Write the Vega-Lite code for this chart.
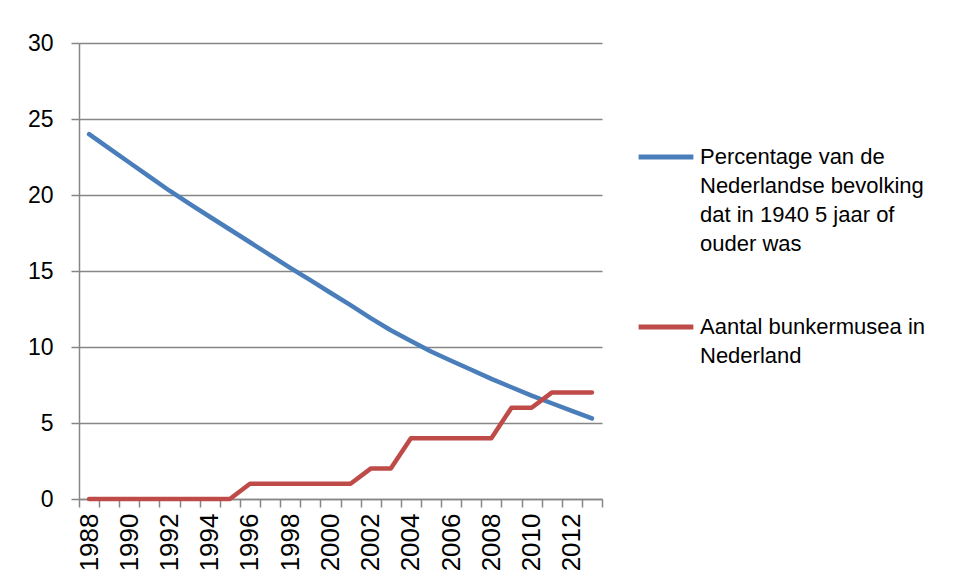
{
  "$schema": "https://vega.github.io/schema/vega-lite/v6.json",
  "width": 523,
  "height": 456,
  "autosize": {"type": "none"},
  "padding": {"left": 79, "top": 43, "right": 357, "bottom": 84},
  "background": "white",
  "config": {
    "view": {"stroke": null},
    "font": "Liberation Sans"
  },
  "data": {
    "values": [
      {"year": 1988, "series": "pct", "value": 24.0},
      {"year": 1989, "series": "pct", "value": 23.07},
      {"year": 1990, "series": "pct", "value": 22.14},
      {"year": 1991, "series": "pct", "value": 21.21},
      {"year": 1992, "series": "pct", "value": 20.28},
      {"year": 1993, "series": "pct", "value": 19.41},
      {"year": 1994, "series": "pct", "value": 18.57},
      {"year": 1995, "series": "pct", "value": 17.73},
      {"year": 1996, "series": "pct", "value": 16.89},
      {"year": 1997, "series": "pct", "value": 16.05},
      {"year": 1998, "series": "pct", "value": 15.21},
      {"year": 1999, "series": "pct", "value": 14.4},
      {"year": 2000, "series": "pct", "value": 13.57},
      {"year": 2001, "series": "pct", "value": 12.75},
      {"year": 2002, "series": "pct", "value": 11.9},
      {"year": 2003, "series": "pct", "value": 11.1},
      {"year": 2004, "series": "pct", "value": 10.4},
      {"year": 2005, "series": "pct", "value": 9.7},
      {"year": 2006, "series": "pct", "value": 9.1},
      {"year": 2007, "series": "pct", "value": 8.5},
      {"year": 2008, "series": "pct", "value": 7.9},
      {"year": 2009, "series": "pct", "value": 7.35},
      {"year": 2010, "series": "pct", "value": 6.8},
      {"year": 2011, "series": "pct", "value": 6.3},
      {"year": 2012, "series": "pct", "value": 5.8},
      {"year": 2013, "series": "pct", "value": 5.3},
      {"year": 1988, "series": "bunker", "value": 0},
      {"year": 1989, "series": "bunker", "value": 0},
      {"year": 1990, "series": "bunker", "value": 0},
      {"year": 1991, "series": "bunker", "value": 0},
      {"year": 1992, "series": "bunker", "value": 0},
      {"year": 1993, "series": "bunker", "value": 0},
      {"year": 1994, "series": "bunker", "value": 0},
      {"year": 1995, "series": "bunker", "value": 0},
      {"year": 1996, "series": "bunker", "value": 1},
      {"year": 1997, "series": "bunker", "value": 1},
      {"year": 1998, "series": "bunker", "value": 1},
      {"year": 1999, "series": "bunker", "value": 1},
      {"year": 2000, "series": "bunker", "value": 1},
      {"year": 2001, "series": "bunker", "value": 1},
      {"year": 2002, "series": "bunker", "value": 2},
      {"year": 2003, "series": "bunker", "value": 2},
      {"year": 2004, "series": "bunker", "value": 4},
      {"year": 2005, "series": "bunker", "value": 4},
      {"year": 2006, "series": "bunker", "value": 4},
      {"year": 2007, "series": "bunker", "value": 4},
      {"year": 2008, "series": "bunker", "value": 4},
      {"year": 2009, "series": "bunker", "value": 6},
      {"year": 2010, "series": "bunker", "value": 6},
      {"year": 2011, "series": "bunker", "value": 7},
      {"year": 2012, "series": "bunker", "value": 7},
      {"year": 2013, "series": "bunker", "value": 7}
    ]
  },
  "mark": {"type": "line", "strokeWidth": 4.5, "strokeCap": "round", "strokeJoin": "round"},
  "encoding": {
    "x": {
      "field": "year",
      "type": "ordinal",
      "scale": {"type": "band", "paddingInner": 0, "paddingOuter": 0},
      "axis": {
        "title": null,
        "tickBand": "extent",
        "labelExpr": "datum.value % 2 == 0 ? datum.label : ''",
        "labelAngle": 270,
        "labelAlign": "right",
        "labelBaseline": "middle",
        "labelFontSize": 26,
        "labelColor": "#000000",
        "labelPadding": 6,
        "tickSize": 8,
        "tickColor": "#868686",
        "tickWidth": 1.5,
        "domainColor": "#868686",
        "domainWidth": 1.5,
        "grid": false
      }
    },
    "y": {
      "field": "value",
      "type": "quantitative",
      "scale": {"domain": [0, 30], "nice": false},
      "axis": {
        "title": null,
        "values": [0, 5, 10, 15, 20, 25, 30],
        "labelFontSize": 23,
        "labelColor": "#000000",
        "labelPadding": 18,
        "tickSize": 8,
        "tickColor": "#868686",
        "tickWidth": 1.5,
        "domainColor": "#868686",
        "domainWidth": 1.5,
        "grid": true,
        "gridColor": "#868686",
        "gridWidth": 1.5
      }
    },
    "color": {
      "field": "series",
      "type": "nominal",
      "scale": {"domain": ["pct", "bunker"], "range": ["#4A7EBB", "#BE4B48"]},
      "legend": {
        "title": null,
        "orient": "none",
        "legendX": 557,
        "legendY": 84,
        "symbolType": "stroke",
        "symbolSize": 3000,
        "symbolStrokeWidth": 5,
        "labelFontSize": 22,
        "labelColor": "#000000",
        "labelLimit": 0,
        "labelOffset": 4,
        "rowPadding": 42,
        "labelExpr": "datum.value == 'pct' ? ['Percentage van de', 'Nederlandse bevolking', 'dat in 1940 5 jaar of', 'ouder was'] : ['Aantal bunkermusea in', 'Nederland']",
        "encode": {"labels": {"update": {"lineHeight": {"value": 29}}}}
      }
    }
  }
}
